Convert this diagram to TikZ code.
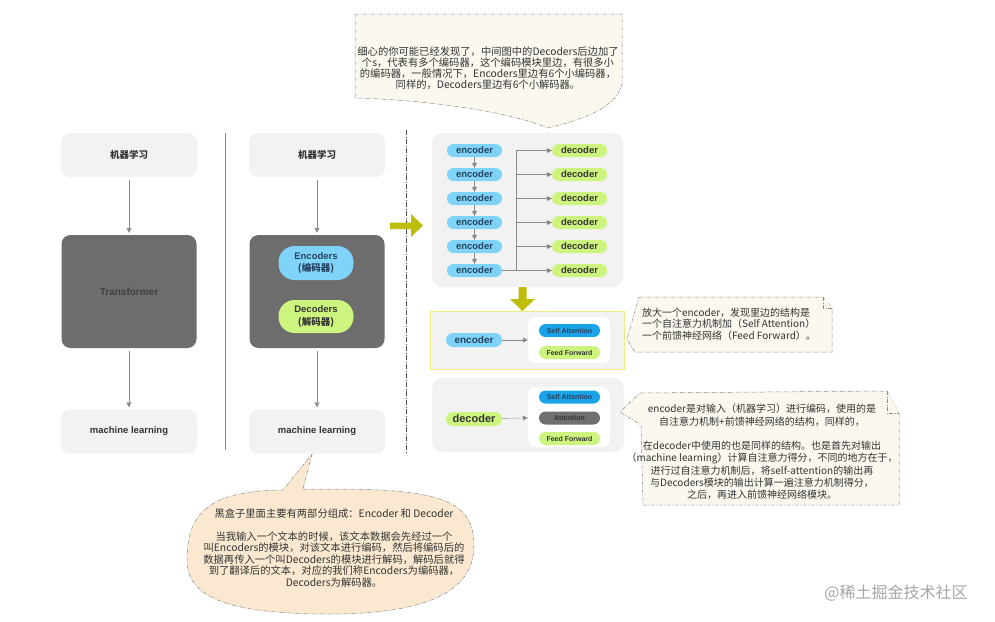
\documentclass[tikz,border=0pt]{standalone}
\usepackage{fontspec}
\setmainfont{Noto Sans CJK SC}
\newfontfamily\latin{Liberation Sans}
\usetikzlibrary{arrows.meta}

\definecolor{boxgray}{HTML}{F2F2F2}
\definecolor{boxdark}{HTML}{6D6D6D}
\definecolor{pillblue}{HTML}{80D3F8}
\definecolor{pillgreen}{HTML}{CDF47E}
\definecolor{sablue}{HTML}{1AA3E8}
\definecolor{attgray}{HTML}{707070}
\definecolor{olivearrow}{HTML}{BDBD0A}
\definecolor{notefill}{HTML}{FBF8EF}
\definecolor{peach}{HTML}{FAE9D0}
\definecolor{linegray}{HTML}{8A8A8A}
\definecolor{yellowline}{HTML}{F0EC80}
\definecolor{txt}{HTML}{333333}
\definecolor{enctxt}{HTML}{24415E}

\begin{document}
\begin{tikzpicture}[x=1pt,y=-1pt,
  light/.style={fill=boxgray, rounded corners=9pt, minimum width=136pt, minimum height=44pt,
    inner sep=0pt, text=txt, font=\bfseries\fontsize{9.5}{11}\selectfont},
  dark/.style={fill=boxdark, rounded corners=9pt, minimum width=135pt, minimum height=113pt,
    inner sep=0pt, text=black!75, font=\bfseries\fontsize{10}{11}\selectfont},
  pill/.style={rounded corners=6.5pt, minimum width=55pt, minimum height=13pt, inner sep=0pt,
    text=enctxt, font=\latin\bfseries\fontsize{9.5}{10}\selectfont},
  tinypill/.style={rounded corners=6.5pt, minimum width=61pt, minimum height=13pt, inner sep=0pt,
    text=txt, font=\latin\bfseries\fontsize{7}{8}\selectfont},
  whitebox/.style={fill=white, rounded corners=8pt, minimum width=82pt, inner sep=0pt},
  arr/.style={linegray, -{Triangle[length=5pt,width=5pt]}, shorten <=3pt, shorten >=2pt},
  arrs/.style={linegray, -{Triangle[length=5pt,width=5pt]}},
  note/.style={draw=linegray, fill=notefill, line width=0.5pt,
    dash pattern=on 4pt off 1.5pt on 1pt off 1.5pt},
  notetext/.style={text=txt, align=center, inner sep=0pt}]

\fill[white] (0,0) rectangle (995,621);
\useasboundingbox (0,0) rectangle (995,621);

% left column
\node[light] (lin) at (129,155) {机器学习};
\node[dark] (ltrans) at (129,291.5) {\latin Transformer};
\node[light] (lout) at (129,431.5) {\latin machine learning};
\draw[arr] (lin) -- (ltrans);
\draw[arr] (ltrans) -- (lout);

\draw[linegray] (225,133) -- (225,450);

% middle column
\node[light] (min) at (317,155) {机器学习};
\node[dark] (mbox) at (317,291.5) {};
\node[light] (mout) at (317,431.5) {\latin machine learning};
\node[pill, fill=pillblue, minimum width=75pt, minimum height=34pt, rounded corners=16pt,
  align=center, font=\bfseries\fontsize{9.5}{12.5}\selectfont] (mencs) at (316,263)
  {{\latin Encoders}\\(编码器)};
\node[pill, fill=pillgreen, minimum width=75pt, minimum height=33pt, rounded corners=16pt,
  align=center, text=txt, font=\bfseries\fontsize{9.5}{12.5}\selectfont] (mdecs) at (316,316.5)
  {{\latin Decoders}\\(解码器)};
\draw[arr] (min) -- (mbox);
\draw[arr] (mbox) -- (mout);

\draw[black!70, dash pattern=on 5pt off 1.5pt on 1pt off 1.5pt] (406,130) -- (406,452);

% olive arrows
\fill[olivearrow] (390,222.5) -- (411,222.5) -- (411,214) -- (423,225.5) -- (411,237)
  -- (411,229) -- (390,229) -- cycle;
\fill[olivearrow] (518.5,287) -- (526.5,287) -- (526.5,299) -- (535,299) -- (522.5,311)
  -- (510,299) -- (518.5,299) -- cycle;

% encoder / decoder stack
\fill[boxgray, rounded corners=10pt] (432,133) rectangle (623,287);
\foreach \i in {1,...,6} {
  \node[pill, fill=pillblue] (e\i) at (474.5,{126.5+24*\i}) {encoder};
  \node[pill, fill=pillgreen, text=black!80] (d\i) at (579.5,{126.5+24*\i}) {decoder};
}
\foreach \i/\j in {1/2,2/3,3/4,4/5,5/6}
  \draw[arrs] (e\i) -- (e\j);
\coordinate (bus) at (516,150.5);
\draw[linegray] (e6.east) -- (e6 -| bus) -- (bus);
\foreach \i in {1,...,6}
  \draw[arrs] (d\i -| bus) -- (d\i.west);

% one encoder
\node[draw=yellowline, fill=boxgray, minimum width=194pt, minimum height=58pt, inner sep=0pt]
  (encbox) at (527,340) {};
\node[pill, fill=pillblue, minimum width=56pt, minimum height=14pt, rounded corners=7pt,
  font=\latin\bfseries\fontsize{10}{11}\selectfont] (enc) at (474,340) {encoder};
\node[whitebox, minimum height=46pt] (ewhite) at (569,340) {};
\node[tinypill, fill=sablue, text=enctxt] (sa1) at (569.5,330.5) {Self Attention};
\node[tinypill, fill=pillgreen] (ff1) at (569.5,352.5) {Feed Forward};
\draw[arrs] (enc) -- (ewhite);

% one decoder
\node[fill=boxgray, rounded corners=10pt, minimum width=192pt, minimum height=74pt, inner sep=0pt]
  (decbox) at (528,415) {};
\node[pill, fill=pillgreen, text=txt, minimum width=56pt, minimum height=14pt, rounded corners=7pt,
  font=\latin\bfseries\fontsize{11}{12}\selectfont] (dec) at (474,419) {decoder};
\node[whitebox, minimum height=60pt] (dwhite) at (569,417) {};
\node[tinypill, fill=sablue, text=enctxt] (sa2) at (569.5,397) {Self Attention};
\node[tinypill, fill=attgray, text=black!80] (att) at (569.5,418) {Attention};
\node[tinypill, fill=pillgreen] (ff2) at (569.5,438.5) {Feed Forward};
\draw[arrs] (dec) -- (dwhite);

% notes
\draw[note] (355,14) -- (622,14) -- (622,84) .. controls (618,102) and (598,116) .. (548,128)
  .. controls (510,112) and (430,100) .. (355,98) -- cycle;
\node[notetext, font=\fontsize{10.3}{9.4}\selectfont] (topnote) at (488,68)
  {细心的你可能已经发现了，中间图中的Decoders后边加了\\
   个s，代表有多个编码器，这个编码模块里边，有很多小\\
   的编码器，一般情况下，Encoders里边有6个小编码器，\\
   同样的，Decoders里边有6个小解码器。};

\draw[note] (639,297) -- (823,297) -- (832,308) -- (832,352) -- (635,352) -- (627,339) -- cycle;
\draw[note] (823,297) -- (823,308) -- (832,308);
\node[notetext, align=left, font=\fontsize{10}{11.5}\selectfont] (encnote) at (729,324)
  {放大一个encoder，发现里边的结构是\\
   一个自注意力机制加（Self Attention）\\
   一个前馈神经网络（Feed Forward）。};

\draw[note] (640,393) -- (887,391) -- (899,413) -- (899,505) -- (643,505) -- (641,425)
  -- (620,412) -- cycle;
\draw[note] (887,391) -- (887,413) -- (899,413);
\node[notetext, font=\fontsize{10}{12.3}\selectfont] (decnote) at (762,452)
  {encoder是对输入（机器学习）进行编码，使用的是\\
   自注意力机制+前馈神经网络的结构，同样的，\\[12.3pt]
   在decoder中使用的也是同样的结构。也是首先对输出\\
   （machine learning）计算自注意力得分，不同的地方在于，\\
   进行过自注意力机制后，将self-attention的输出再\\
   与Decoders模块的输出计算一遍注意力机制得分，\\
   之后，再进入前馈神经网络模块。};

\draw[note, fill=peach] (303,489) -- (330,489) .. controls (440,489) and (474,500) .. (474,546)
  .. controls (474,592) and (425,614) .. (330,614) .. controls (235,614) and (187,600) .. (187,560)
  .. controls (187,508) and (215,491) .. (283,490) -- (312,454) -- cycle;
\node[notetext, font=\fontsize{10.3}{11.5}\selectfont] (blacknote) at (334,548)
  {黑盒子里面主要有两部分组成：Encoder 和 Decoder\\[11.5pt]
   当我输入一个文本的时候，该文本数据会先经过一个\\
   叫Encoders的模块，对该文本进行编码，然后将编码后的\\
   数据再传入一个叫Decoders的模块进行解码，解码后就得\\
   到了翻译后的文本，对应的我们称Encoders为编码器，\\
   Decoders为解码器。};

\node[text=black!35, font=\fontsize{16}{16}\selectfont, inner sep=0pt] (mark) at (896,593)
  {@稀土掘金技术社区};
\end{tikzpicture}
\end{document}
